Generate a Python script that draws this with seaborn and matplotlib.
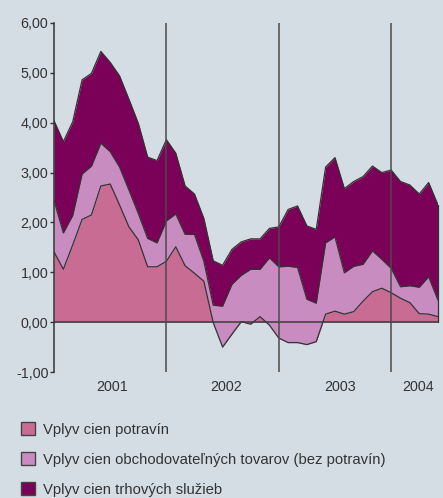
import numpy as np
import pandas as pd
import seaborn as sns
import matplotlib
matplotlib.use("Agg")
from matplotlib import pyplot as plt
from matplotlib.patches import Patch

# monthly contributions, Jan 2001 - Jun 2004
food = [1.41, 1.06, 1.55, 2.06, 2.15, 2.73, 2.77, 2.35, 1.91, 1.65, 1.11, 1.11,
        1.22, 1.51, 1.13, 0.98, 0.82, -0.01, -0.50, -0.24, 0.01, -0.04, 0.11, -0.06,
        -0.32, -0.41, -0.41, -0.45, -0.39, 0.16, 0.22, 0.16, 0.21, 0.42, 0.61, 0.68,
        0.59, 0.48, 0.39, 0.17, 0.16, 0.11]
tradables = [1.03, 0.73, 0.59, 0.91, 0.98, 0.86, 0.65, 0.76, 0.74, 0.53, 0.57, 0.48,
             0.81, 0.66, 0.63, 0.78, 0.40, 0.35, 0.82, 1.00, 0.93, 1.10, 0.95, 1.35,
             1.43, 1.53, 1.51, 0.91, 0.77, 1.43, 1.49, 0.83, 0.91, 0.74, 0.82, 0.58,
             0.49, 0.23, 0.34, 0.53, 0.75, 0.33]
services = [1.60, 1.83, 1.88, 1.89, 1.86, 1.84, 1.79, 1.83, 1.82, 1.81, 1.63, 1.65,
            1.63, 1.22, 0.97, 0.81, 0.86, 0.89, 0.82, 0.70, 0.67, 0.61, 0.61, 0.59,
            0.80, 1.14, 1.23, 1.47, 1.48, 1.52, 1.59, 1.69, 1.70, 1.76, 1.70, 1.74,
            1.97, 2.11, 2.02, 1.87, 1.89, 1.91]

years = ['2001', '2002', '2003', '2004']
year_label_pos = [6.2, 18.4, 30.6, 38.9]
year_starts = [12, 24, 36]
labels = ['Vplyv cien potravín',
          'Vplyv cien obchodovateľných tovarov (bez potravín)',
          'Vplyv cien trhových služieb']
colors = ['#c96c94', '#c98cc1', '#7a0058']

df = pd.DataFrame({'food': food, 'tradables': tradables, 'services': services})
df['m'] = np.arange(len(df))
df['lvl1'] = df['food']
df['lvl2'] = df['lvl1'] + df['tradables']
df['lvl3'] = df['lvl2'] + df['services']

bg = '#d5dde4'
sns.set_theme(style='white')
plt.rcParams['font.family'] = ['Liberation Sans', 'DejaVu Sans']

fig = plt.figure(figsize=(4.43, 4.98), dpi=100, facecolor=bg)
ax = fig.add_axes([54 / 443, 1 - 372 / 498, 384 / 443, 349 / 498])
ax.set_facecolor(bg)

edge = '#333333'
ax.fill_between(df['m'], 0, df['lvl1'], color=colors[0], lw=0)
ax.fill_between(df['m'], df['lvl1'], df['lvl2'], color=colors[1], lw=0)
ax.fill_between(df['m'], df['lvl2'], df['lvl3'], color=colors[2], lw=0)
for col in ['lvl1', 'lvl2', 'lvl3']:
    sns.lineplot(data=df, x='m', y=col, ax=ax, color=edge, lw=0.9)
last = df.iloc[-1]
ax.plot([last['m'], last['m']], [0, last['lvl3']], color=edge, lw=0.9, clip_on=False)

ax.axhline(0, color='#3a3a3a', lw=1.1)
for x in year_starts:
    ax.axvline(x, color='#4a4a4a', lw=1.1)

ax.set_xlim(0, len(df) - 1)
ax.set_ylim(-1, 6)
ax.set_yticks(range(-1, 7))
ax.set_yticklabels([f'{v:.2f}'.replace('.', ',') for v in range(-1, 7)])
ax.set_xticks(year_label_pos)
ax.set_xticklabels(years)
ax.tick_params(axis='y', length=3, width=1, color='#333333', labelsize=10.3,
               labelcolor='#333333', pad=1, left=True)
ax.tick_params(axis='x', length=0, labelsize=10.3, labelcolor='#333333', pad=6)
ax.set_xlabel('')
ax.set_ylabel('')
for s in ['top', 'right', 'bottom']:
    ax.spines[s].set_visible(False)
ax.spines['left'].set_color('#333333')
ax.spines['left'].set_linewidth(1.1)

handles = [Patch(facecolor=c, edgecolor='#444444', lw=1) for c in colors]
fig.legend(handles, labels, loc='upper left', bbox_to_anchor=(21 / 443, 1 - 422 / 498),
           frameon=False, fontsize=10.7, handlelength=0.95, handleheight=0.95,
           handletextpad=0.55, labelspacing=1.05, borderpad=0, borderaxespad=0,
           labelcolor='#333333')

fig.savefig('out.png', dpi=100, facecolor=bg)
